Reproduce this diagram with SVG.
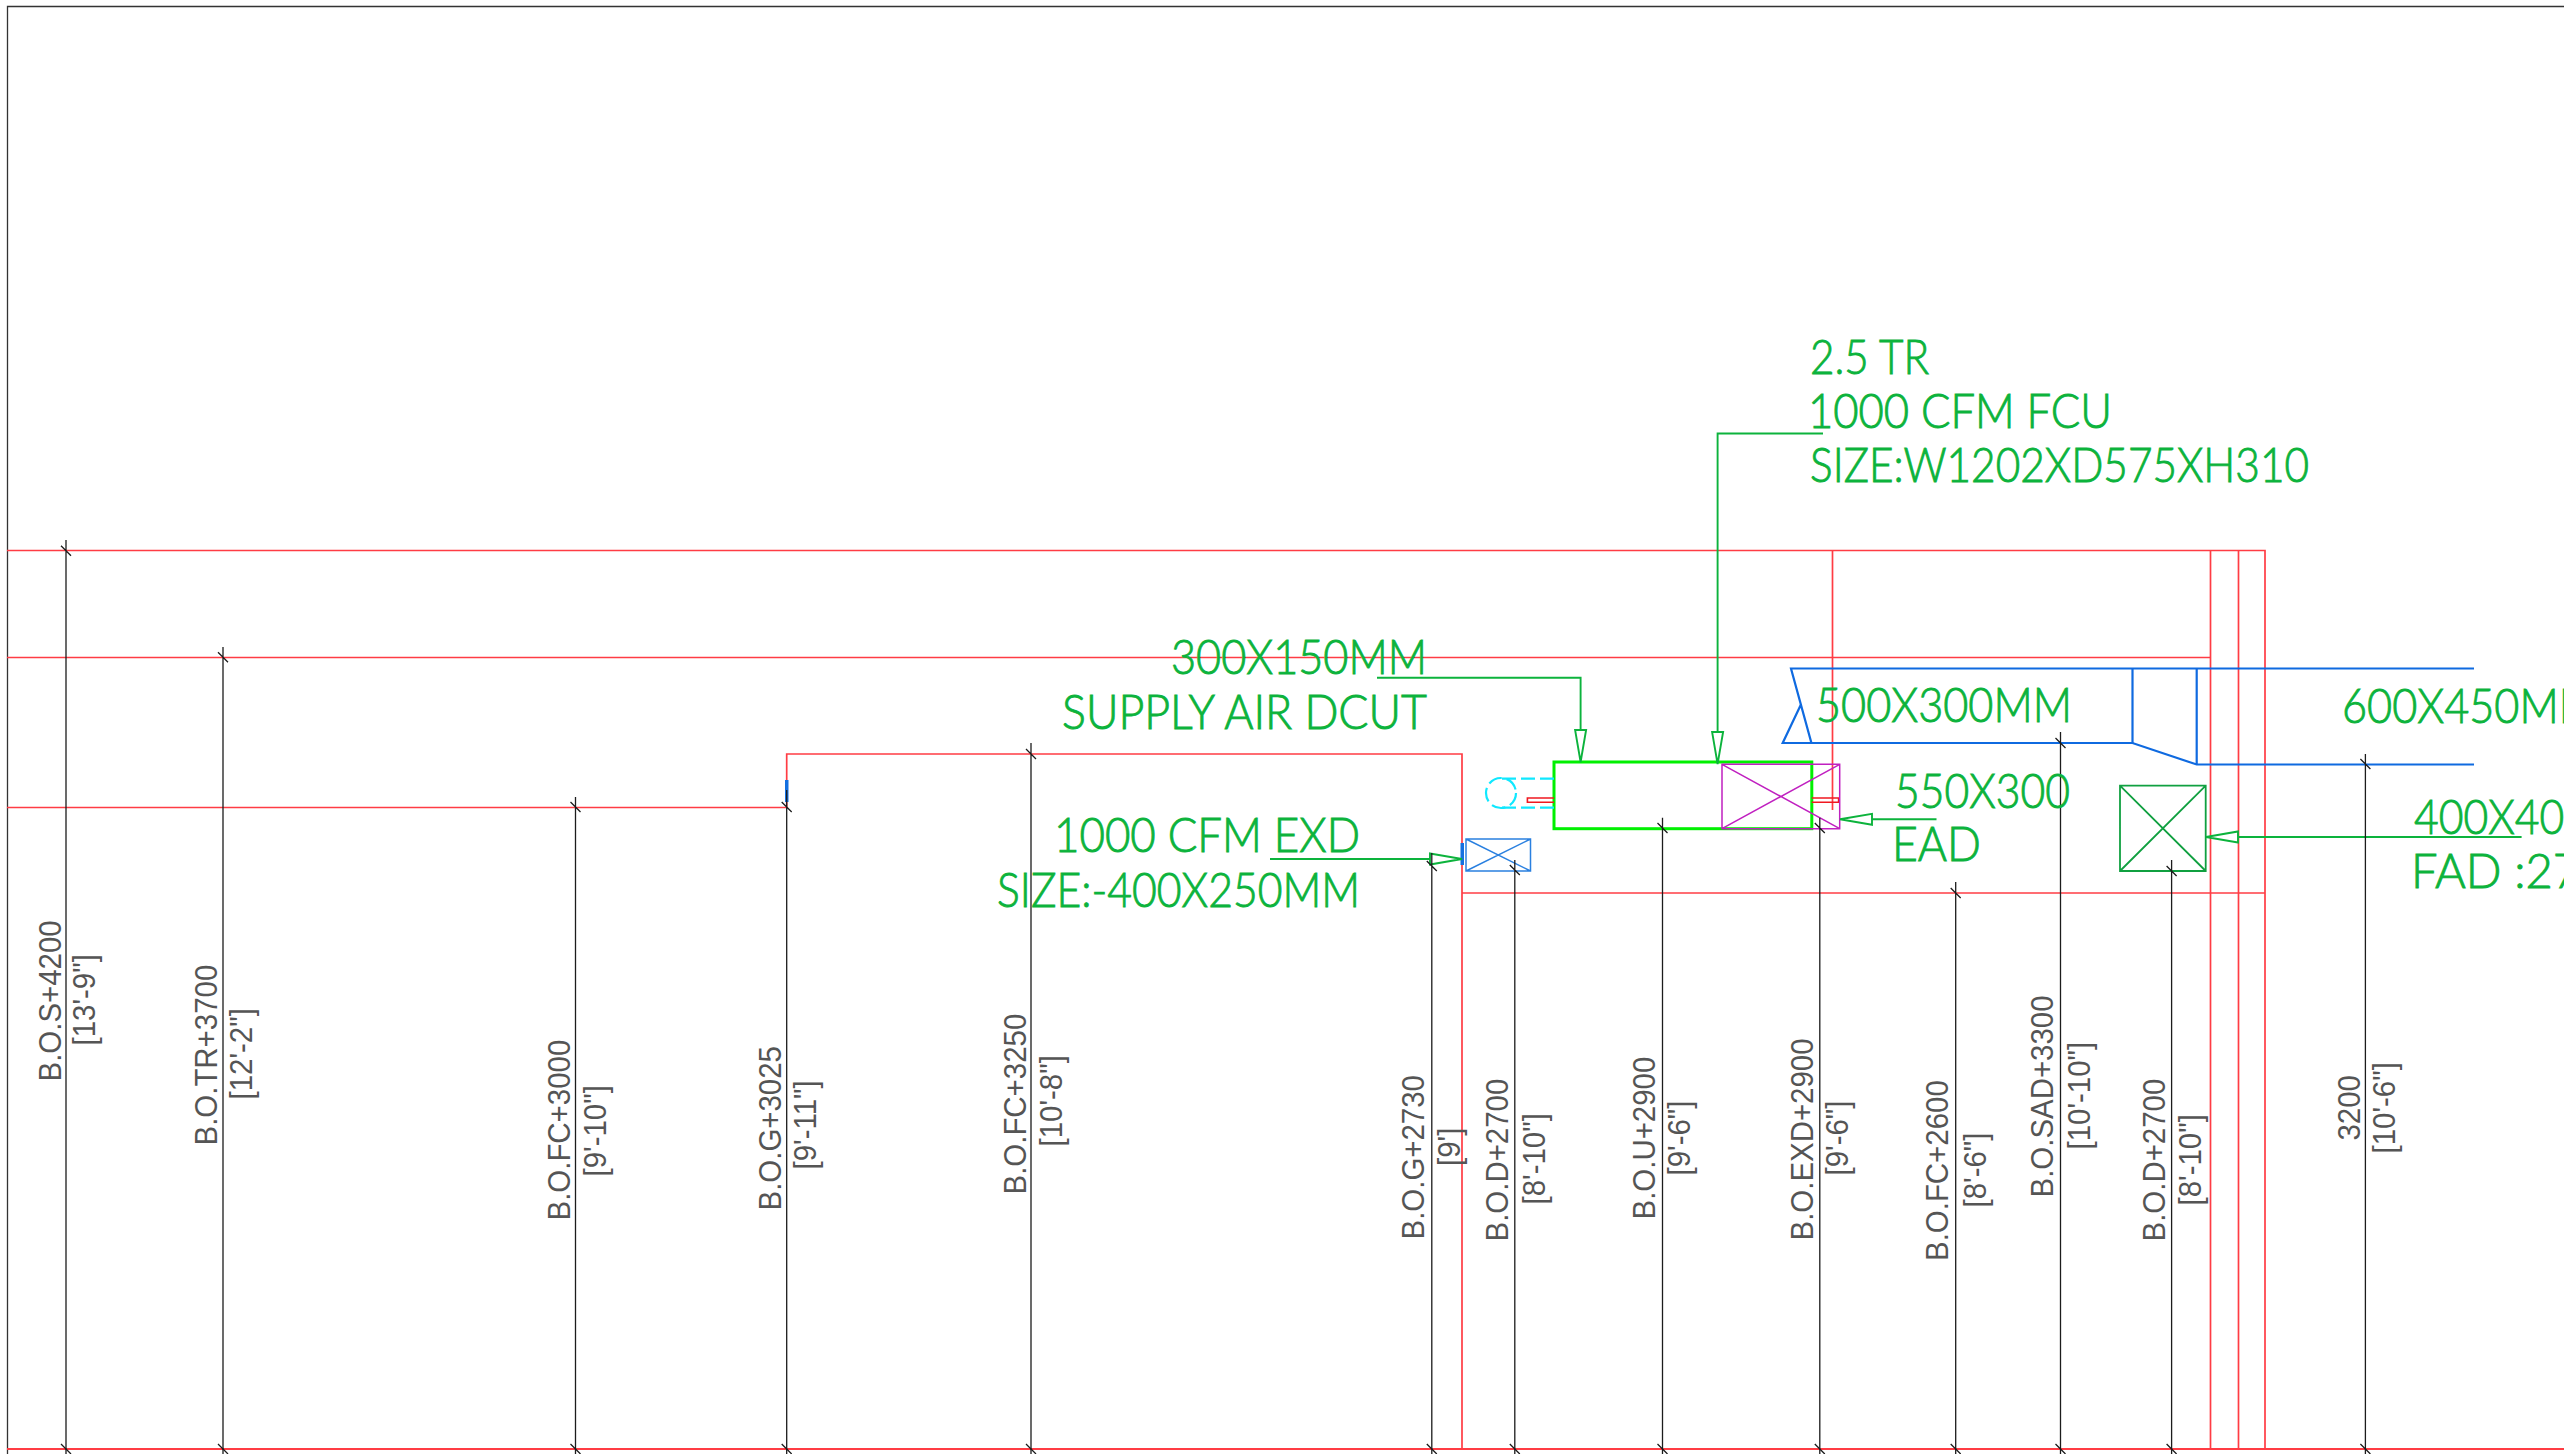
<svg xmlns="http://www.w3.org/2000/svg" width="2564" height="1454" viewBox="0 0 2564 1454">
<style>
.bg{fill:#fff}
.frame{fill:none;stroke:#333;stroke-width:1.3}
.red{fill:none;stroke:#ff3c44;stroke-width:1.7}
.dim{fill:none;stroke:#1c1c1c;stroke-width:1.3}
.lead{fill:none;stroke:#0cb33c;stroke-width:1.9}
.duct{fill:none;stroke:#0f6ae0;stroke-width:2.2}
.g{font-family:"Lato","Open Sans",sans-serif;font-size:47px;font-weight:300;fill:#0cb33c;stroke:#0cb33c;stroke-width:.9}
.t{font-family:"Liberation Sans",Arial,sans-serif;font-size:31px;fill:#555}
</style>
<defs>
<marker id="arr" markerUnits="userSpaceOnUse" markerWidth="36" markerHeight="16" refX="1" refY="8" orient="auto"><path d="M1,2.5 L33,8 L1,13.5 Z" fill="none" stroke="#0cb33c" stroke-width="1.9"/></marker>
</defs>
<rect class="bg" width="2564" height="1454"/>
<g id="frame"><path class="frame" d="M7.5,1454 V6.5 H2564"/></g>
<g id="walls">
<path class="red" d="M7,550.5 H2265 V1449"/>
<path class="red" d="M7,657.5 H2210.5"/>
<path class="red" d="M7,807.5 H786.7 V754 H1462 V1449"/>
<path class="red" d="M1462,893 H2265"/>
<path class="red" d="M2210.5,550 V1449"/>
<path class="red" d="M2238.5,550 V1449"/>
<path class="red" d="M1832.5,550 V810"/>
<path class="red" d="M7,1449 H2564" style="stroke-width:2"/>
</g>
<g id="duct-main">
<path class="duct" d="M2474,668.5 H1791 L1811.4,743 H1782.7 L1800.7,705"/>
<path class="duct" d="M1811.4,743 H2132.5 L2196.7,764.5 H2474"/>
<path class="duct" d="M2132.5,668.5 V743 M2196.7,668.5 V764.5"/>
<path d="M785,780 h3.5 v22 h-3.5 z" fill="#1470e0"/>
</g>
<g id="fcu">
<rect x="1554" y="762" width="257.8" height="66.7" fill="none" stroke="#00f000" stroke-width="3"/>
<path d="M1554,778.7 H1501 M1554,807.7 H1501" fill="none" stroke="#10e8ff" stroke-width="2.2" stroke-dasharray="14 5"/>
<ellipse cx="1501" cy="793" rx="15" ry="15" fill="none" stroke="#10e8ff" stroke-width="2.2" stroke-dasharray="14 5"/>
<path d="M1554,798 H1527.4 V802.3 H1554 M1811.8,798 H1838.6 V802.3 H1811.8" fill="none" stroke="#f01820" stroke-width="1.6"/>
</g>
<g id="ead">
<path d="M1722,764.3 H1839.7 V828.7 H1722 Z M1722,764.3 L1839.7,828.7 M1722,828.7 L1839.7,764.3" fill="none" stroke="#c020c0" stroke-width="1.5"/>
</g>
<g id="exd">
<path d="M1466,839 H1530.5 V871 H1466 Z M1466,839 L1530.5,871 M1466,871 L1530.5,839" fill="none" stroke="#2a80e0" stroke-width="1.5"/>
<rect x="1460.5" y="843" width="3.5" height="22" fill="#1470e0"/>
</g>
<g id="fad">
<path d="M2120,785.7 H2205.7 V871 H2120 Z M2120,785.7 L2205.7,871 M2120,871 L2205.7,785.7" fill="none" stroke="#10a040" stroke-width="1.8"/>
</g>
<g id="connectors">
<path class="lead" marker-end="url(#arr)" d="M1377,677.7 H1580.6 V730"/>
<path class="lead" marker-end="url(#arr)" d="M1823,433.5 H1717.6 V732"/>
<path class="lead" marker-end="url(#arr)" d="M1270,859 H1430"/>
<path class="lead" marker-end="url(#arr)" d="M1936.5,819.3 H1872"/>
<path class="lead" marker-end="url(#arr)" d="M2521.6,837 H2238"/>
<g id="dims" class="dim">
<path d="M66,540 V1454 M61,545.7 l10,10"/>
<path d="M223,647 V1454 M218,652.3 l10,10"/>
<path d="M575.5,797 V1454 M570.5,802 l10,10"/>
<path d="M786.7,790 V1454 M781.7,802 l10,10"/>
<path d="M1031,743 V1454 M1026,749 l10,10"/>
<path d="M1431.8,853 V1454 M1426.8,861 l10,10"/>
<path d="M1514.8,860 V1454 M1509.8,865 l10,10"/>
<path d="M1662.5,817.7 V1454 M1657.5,823 l10,10"/>
<path d="M1819.8,817.7 V1454 M1814.8,823 l10,10"/>
<path d="M1955.7,882 V1454 M1950.7,888 l10,10"/>
<path d="M2060.5,732 V1454 M2055.5,738 l10,10"/>
<path d="M2171.6,860 V1454 M2166.6,866 l10,10"/>
<path d="M2365.4,754 V1454 M2360.4,759 l10,10"/>
<path d="M61,1444 l10,10 M218,1444 l10,10 M570.5,1444 l10,10 M781.7,1444 l10,10 M1026,1444 l10,10 M1426.8,1444 l10,10 M1509.8,1444 l10,10 M1657.5,1444 l10,10 M1814.8,1444 l10,10 M1950.7,1444 l10,10 M2055.5,1444 l10,10 M2166.6,1444 l10,10 M2360.4,1444 l10,10"/>
</g>
</g>
<g id="labels-green">
<text class="g" x="1810" y="373.5" textLength="119" lengthAdjust="spacingAndGlyphs">2.5 TR</text>
<text class="g" x="1808" y="427.5" textLength="304" lengthAdjust="spacingAndGlyphs">1000 CFM FCU</text>
<text class="g" x="1810" y="481.5" textLength="499" lengthAdjust="spacingAndGlyphs">SIZE:W1202XD575XH310</text>
<text class="g" x="1171" y="673.5" textLength="256" lengthAdjust="spacingAndGlyphs">300X150MM</text>
<text class="g" x="1062" y="728.5" textLength="365" lengthAdjust="spacingAndGlyphs">SUPPLY AIR DCUT</text>
<text class="g" x="1054" y="851.5" textLength="306" lengthAdjust="spacingAndGlyphs">1000 CFM EXD</text>
<text class="g" x="997" y="906.5" textLength="363" lengthAdjust="spacingAndGlyphs">SIZE:-400X250MM</text>
<text class="g" x="1816" y="721.5" textLength="256" lengthAdjust="spacingAndGlyphs">500X300MM</text>
<text class="g" x="1895" y="807.5" textLength="175" lengthAdjust="spacingAndGlyphs">550X300</text>
<text class="g" x="1892" y="860.5" textLength="89" lengthAdjust="spacingAndGlyphs">EAD</text>
<text class="g" x="2342" y="723" textLength="256" lengthAdjust="spacingAndGlyphs">600X450MM</text>
<text class="g" x="2414" y="833.5" textLength="175" lengthAdjust="spacingAndGlyphs">400X400</text>
<text class="g" x="2411" y="887.5">FAD :27</text>
</g>
<g id="labels-dim">
<text class="t" transform="translate(61,1081.5) rotate(-90) scale(.95,1)">B.O.S+4200</text>
<text class="t" transform="translate(95,1045.5) rotate(-90) scale(.95,1)">[13'-9"]</text>
<text class="t" transform="translate(216.5,1145.5) rotate(-90) scale(.95,1)">B.O.TR+3700</text>
<text class="t" transform="translate(252,1099.5) rotate(-90) scale(.95,1)">[12'-2"]</text>
<text class="t" transform="translate(570,1220.5) rotate(-90) scale(.95,1)">B.O.FC+3000</text>
<text class="t" transform="translate(606,1176.5) rotate(-90) scale(.95,1)">[9'-10"]</text>
<text class="t" transform="translate(780.5,1210.5) rotate(-90) scale(.95,1)">B.O.G+3025</text>
<text class="t" transform="translate(815.5,1169.5) rotate(-90) scale(.95,1)">[9'-11"]</text>
<text class="t" transform="translate(1025.5,1194.5) rotate(-90) scale(.95,1)">B.O.FC+3250</text>
<text class="t" transform="translate(1061.5,1146.5) rotate(-90) scale(.95,1)">[10'-8"]</text>
<text class="t" transform="translate(1424,1239.5) rotate(-90) scale(.95,1)">B.O.G+2730</text>
<text class="t" transform="translate(1459.5,1166) rotate(-90) scale(.95,1)">[9']</text>
<text class="t" transform="translate(1507.6,1241.5) rotate(-90) scale(.95,1)">B.O.D+2700</text>
<text class="t" transform="translate(1544.8,1204.5) rotate(-90) scale(.95,1)">[8'-10"]</text>
<text class="t" transform="translate(1654.5,1219.5) rotate(-90) scale(.95,1)">B.O.U+2900</text>
<text class="t" transform="translate(1690,1175.5) rotate(-90) scale(.95,1)">[9'-6"]</text>
<text class="t" transform="translate(1812.7,1240.5) rotate(-90) scale(.95,1)">B.O.EXD+2900</text>
<text class="t" transform="translate(1848,1175.5) rotate(-90) scale(.95,1)">[9'-6"]</text>
<text class="t" transform="translate(1948,1261) rotate(-90) scale(.95,1)">B.O.FC+2600</text>
<text class="t" transform="translate(1985.5,1207.5) rotate(-90) scale(.95,1)">[8'-6"]</text>
<text class="t" transform="translate(2052.5,1197.5) rotate(-90) scale(.95,1)">B.O.SAD+3300</text>
<text class="t" transform="translate(2090,1149.5) rotate(-90) scale(.95,1)">[10'-10"]</text>
<text class="t" transform="translate(2164.7,1241.5) rotate(-90) scale(.95,1)">B.O.D+2700</text>
<text class="t" transform="translate(2201,1205.5) rotate(-90) scale(.95,1)">[8'-10"]</text>
<text class="t" transform="translate(2360,1140.5) rotate(-90) scale(.95,1)">3200</text>
<text class="t" transform="translate(2395,1153.5) rotate(-90) scale(.95,1)">[10'-6"]</text>
</g>
</svg>
